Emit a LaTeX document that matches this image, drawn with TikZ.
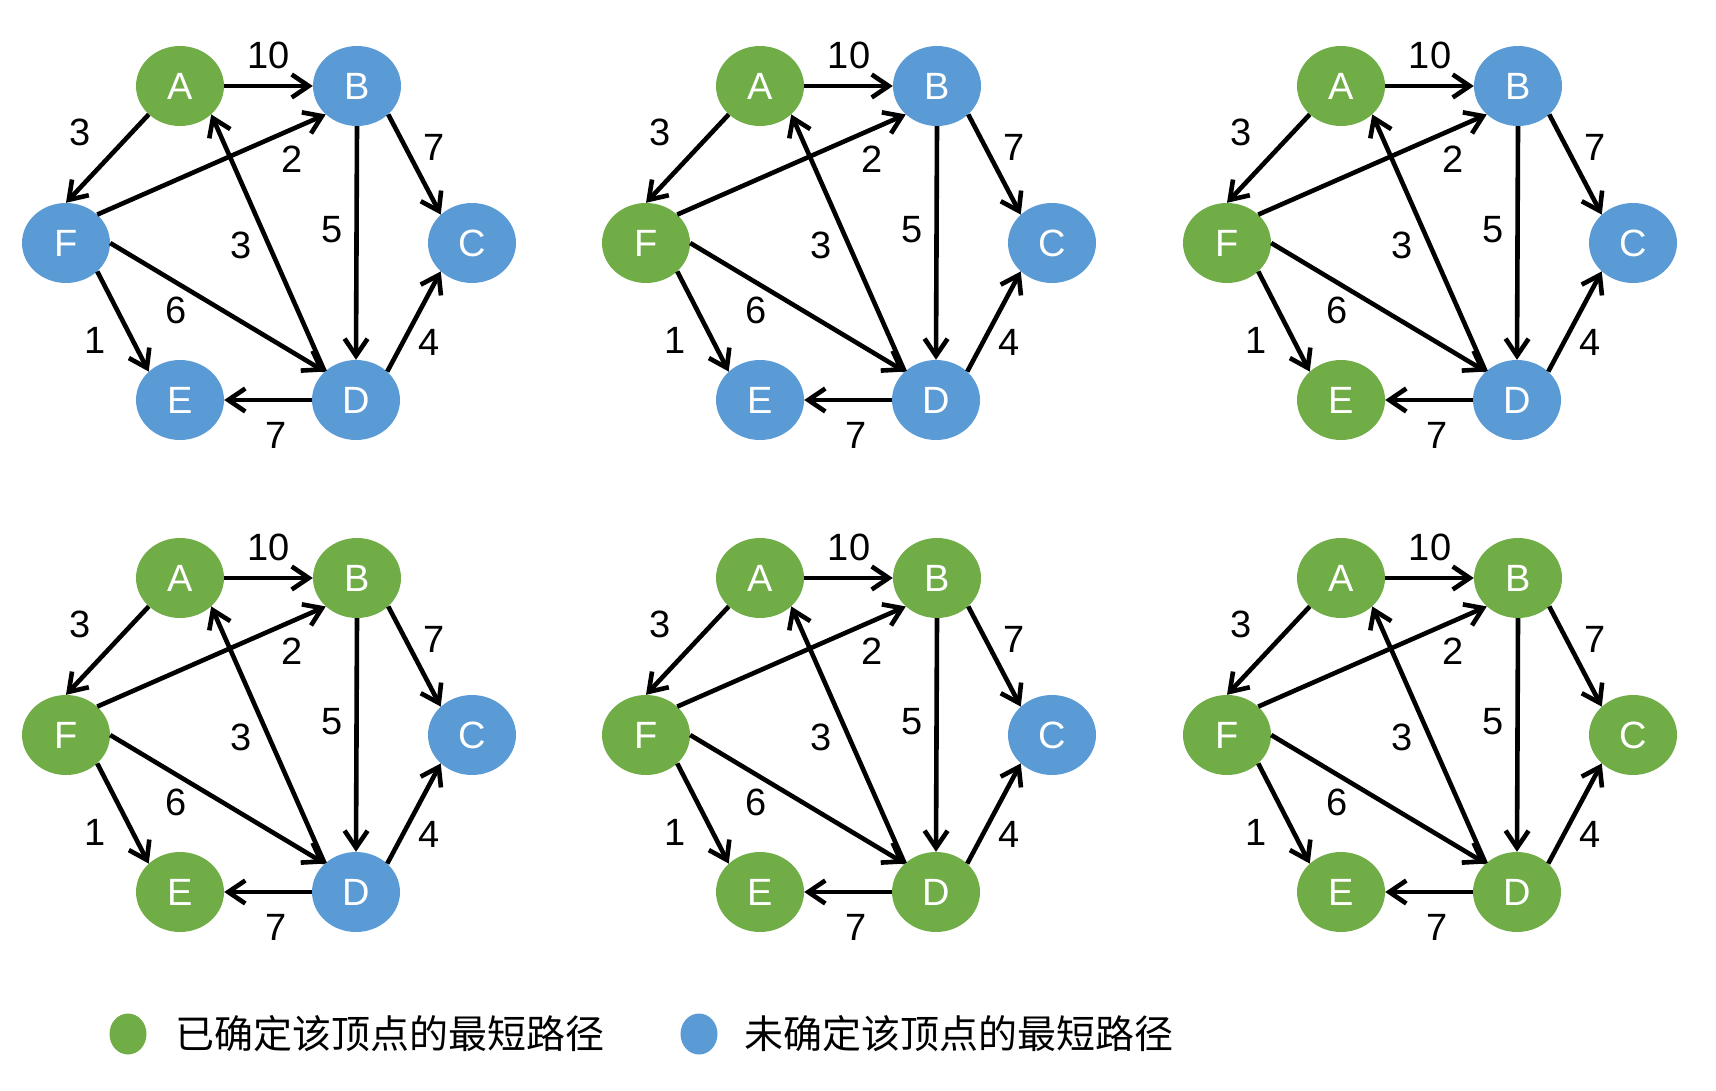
\documentclass[tikz,border=0pt]{standalone}
\usepackage{fontspec}
\setmainfont{Liberation Sans}
\newfontfamily\cjk{Noto Sans CJK SC}
\usetikzlibrary{arrows.meta,shapes.geometric,positioning}
\definecolor{donegreen}{RGB}{112,173,71}
\definecolor{openblue}{RGB}{91,155,213}

\tikzset{
  vertex/.style={ellipse, minimum width=88pt, minimum height=80pt, inner sep=0pt,
    text=white, font=\fontsize{38}{44}\selectfont},
  link/.style={line width=4.6pt, -{Straight Barb[length=17pt,width=23pt]}},
  weight/.style={font=\fontsize{38}{44}\selectfont},
  keydot/.style={ellipse, minimum width=37pt, minimum height=41pt, inner sep=0pt},
  keytext/.style={font=\cjk\fontsize{39}{46}\selectfont, inner sep=0pt},
}

\begin{document}
\begin{tikzpicture}[x=1pt,y=-1pt]
        \useasboundingbox (0,0) rectangle (1716,1090);
        % six steps, vertices fixed in order A F E B D C
        \foreach \k/\dx/\dy in {1/0/0, 2/580/0, 3/1161/0, 4/0/492, 5/580/492, 6/1161/492} {
          \begin{scope}[shift={(\dx,\dy)}]
            \foreach \name/\pos/\x/\y in {A/1/180/86, F/2/66/243, E/3/180/400, B/4/357/86, D/5/356/400, C/6/472/243} {
              \ifnum\pos>\k \def\col{openblue}\else\def\col{donegreen}\fi
              \node[vertex,fill=\col] (\name\k) at (\x,\y) {\name};
            }
            \foreach \u/\a/\v/\b in {A/east/B/west, A/south west/F/north, F/north east/B/south west,
                D/north west/A/south east, B/south/D/north, B/south east/C/north west,
                D/north east/C/south west, F/east/D/north west, F/south east/E/north west, D/west/E/east}
              \draw[link] (\u\k.\a) -- (\v\k.\b);
            \foreach \w/\x/\y in {10/269/55, 3/80/132, 2/292/159, 7/434/147, 5/332/230, 3/241/245, 6/176/310, 1/95/340, 4/429/342, 7/276/435}
              \node[weight] at (\x,\y) {\w};
          \end{scope}
        }

        % legend
        \node[keydot,fill=donegreen] (keydone) at (128,1034) {};
        \node[keytext,anchor=west] (textdone) at (175,1034) {已确定该顶点的最短路径};
        \node[keydot,fill=openblue] (keyopen) at (699,1034) {};
        \node[keytext,anchor=west] (textopen) at (744,1034) {未确定该顶点的最短路径};
    \end{tikzpicture}
\end{document}
